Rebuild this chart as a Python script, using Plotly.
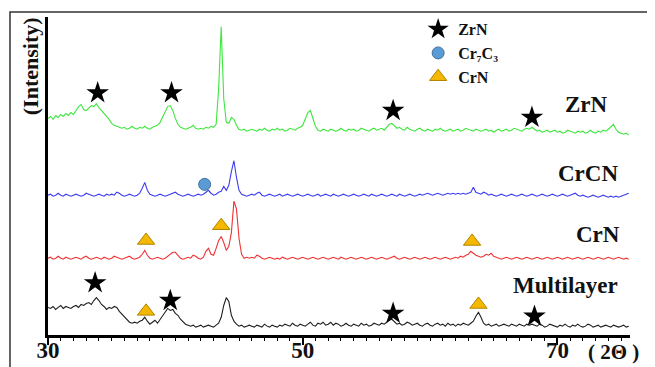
import plotly.graph_objects as go

# 2-theta sampling grid (degrees), 0.2 deg step from 30.0 to 75.6
two_theta = [round(30 + 0.2 * i, 1) for i in range(229)]

# Intensities (a.u., stacked as displayed)
zrn = [
    220, 222, 219, 223, 221, 224, 222, 225, 223, 226,
    224, 228, 232, 234, 229, 228, 231, 233, 232, 235,
    231, 228, 226, 222, 219, 215, 213, 212, 211, 210,
    211, 209, 210, 212, 210, 209, 211, 210, 212, 210,
    209, 211, 212, 213, 216, 221, 227, 232, 233, 228,
    220, 214, 211, 210, 209, 210, 211, 213, 210, 209,
    210, 209, 211, 210, 212, 211, 214, 250, 313, 240,
    216, 215, 221, 219, 213, 209, 208, 209, 207, 208,
    209, 208, 207, 209, 208, 210, 208, 207, 209, 208,
    210, 208, 209, 207, 208, 210, 209, 208, 210, 211,
    213, 219, 226, 228, 221, 212, 208, 207, 209, 208,
    207, 209, 208, 207, 208, 210, 208, 207, 209, 208,
    209, 207, 208, 210, 209, 208, 207, 209, 210, 208,
    209, 210, 208, 211, 214, 215, 212, 210, 211, 209,
    208, 211, 209, 208, 207, 209, 210, 208, 207, 209,
    208, 207, 209, 208, 210, 208, 207, 208, 209, 207,
    208, 209, 207, 208, 210, 209, 208, 207, 209, 208,
    207, 208, 209, 207, 208, 206, 208, 209, 207, 208,
    209, 207, 208, 210, 209, 208, 207, 209, 210, 209,
    211, 209, 207, 208, 206, 207, 208, 206, 207, 208,
    206, 207, 205, 206, 208, 207, 206, 205, 207, 206,
    207, 205, 206, 208, 206, 205, 207, 206, 208, 207,
    209, 212, 214, 209, 206, 205, 204, 205, 203,
]

crcn = [
    142, 143, 141, 142, 144, 142, 141, 143, 142, 141,
    142, 143, 142, 141, 142, 144, 143, 142, 141, 142,
    143, 142, 141, 143, 142, 143, 142, 145, 144, 142,
    141, 142, 143, 142, 141, 142, 144, 149, 155, 147,
    143, 142, 141, 142, 143, 142, 141, 142, 143, 144,
    145, 143, 142, 141, 142, 143, 142, 141, 142, 143,
    142, 143, 145, 147, 144, 142, 143, 145, 146, 151,
    147, 152, 166, 177, 160, 147, 143, 142, 141, 142,
    143, 142, 144, 145, 142, 141, 142, 143, 142, 141,
    142, 143, 141, 142, 143, 142, 141, 142, 143, 142,
    141, 142, 143, 142, 141, 142, 143, 141, 142, 143,
    142, 141, 143, 142, 141, 142, 143, 142, 141, 142,
    143, 142, 141, 142, 143, 142, 141, 143, 142, 141,
    142, 143, 142, 141, 142, 143, 142, 141, 143, 142,
    141, 142, 143, 142, 141, 142, 143, 142, 143, 144,
    143, 142, 143, 144, 143, 142, 143, 144, 143, 144,
    143, 144, 143, 144, 143, 144, 145, 150, 145, 144,
    143, 145, 144, 142, 143, 142, 141, 142, 143, 142,
    141, 142, 143, 142, 141, 142, 143, 142, 141, 142,
    143, 142, 141, 142, 143, 142, 141, 142, 143, 142,
    141, 142, 143, 142, 141, 142, 143, 144, 142, 141,
    142, 141, 140, 141, 142, 141, 140, 141, 142, 141,
    140, 141, 140, 141, 140, 141, 142, 143, 144,
]

crn = [
    78, 79, 77, 78, 80, 78, 77, 79, 78, 77,
    78, 79, 78, 77, 79, 80, 78, 77, 78, 79,
    78, 77, 79, 78, 77, 78, 80, 79, 78, 77,
    78, 79, 80, 78, 77, 78, 79, 82, 86, 81,
    78, 77, 78, 79, 78, 77, 78, 80, 82, 84,
    84, 81, 78, 77, 78, 79, 78, 81, 80, 78,
    77, 79, 85, 88, 82, 81, 88, 96, 100, 94,
    86, 90, 104, 136, 128, 98, 82, 78, 79, 78,
    79, 78, 81, 80, 78, 77, 78, 79, 78, 77,
    78, 77, 79, 78, 77, 78, 79, 78, 77, 78,
    79, 78, 77, 78, 79, 78, 77, 78, 79, 78,
    77, 78, 79, 78, 77, 79, 78, 77, 78, 79,
    78, 77, 78, 79, 78, 77, 78, 79, 78, 77,
    78, 79, 78, 77, 78, 79, 80, 78, 77, 78,
    79, 78, 77, 78, 79, 78, 77, 78, 79, 78,
    77, 78, 79, 78, 77, 78, 79, 78, 77, 78,
    79, 78, 80, 79, 81, 82, 85, 83, 81, 80,
    79, 80, 82, 81, 83, 80, 79, 78, 77, 78,
    79, 78, 77, 78, 79, 78, 77, 78, 79, 78,
    77, 78, 79, 78, 77, 78, 79, 78, 77, 78,
    79, 78, 77, 78, 79, 78, 77, 78, 79, 78,
    77, 78, 79, 78, 77, 78, 79, 78, 77, 78,
    79, 78, 77, 78, 79, 78, 77, 78, 77,
]

multilayer = [
    28, 27, 29, 26, 28, 30, 27, 29, 28, 27,
    29, 30, 28, 31, 30, 32, 33, 31, 35, 38,
    35, 31, 29, 26, 28, 27, 29, 28, 24, 21,
    18, 15, 13, 12, 13, 12, 14, 15, 18, 14,
    11, 13, 15, 12, 16, 20, 24, 27, 25, 26,
    22, 20, 16, 13, 11, 10, 9, 10, 8, 9,
    10, 8, 9, 10, 9, 8, 10, 12, 18, 30,
    38, 34, 20, 14, 11, 9, 10, 8, 9, 10,
    9, 8, 10, 9, 8, 11, 9, 8, 10, 9,
    8, 10, 9, 11, 10, 9, 12, 10, 9, 11,
    10, 9, 11, 13, 10, 9, 12, 11, 13, 10,
    11, 13, 10, 12, 11, 9, 10, 12, 10, 9,
    11, 10, 9, 12, 10, 11, 9, 10, 12, 11,
    10, 12, 11, 13, 15, 16, 13, 11, 12, 10,
    11, 13, 12, 10, 11, 12, 10, 9, 11, 12,
    10, 9, 11, 12, 10, 11, 9, 12, 10, 11,
    9, 11, 10, 12, 11, 10, 12, 14, 19, 23,
    18, 12, 10, 11, 9, 10, 11, 9, 10, 11,
    10, 9, 11, 10, 9, 11, 10, 9, 11, 10,
    11, 10, 9, 11, 10, 8, 9, 11, 10, 9,
    8, 10, 9, 11, 9, 8, 10, 9, 11, 9,
    8, 9, 11, 10, 8, 9, 10, 8, 9, 10,
    9, 8, 10, 9, 8, 9, 10, 8, 9,
]

series_names = ["ZrN", "CrCN", "CrN", "Multilayer"]
series_colors = ["#3ee63e", "#3c3cf0", "#f03232", "#1e1e1e"]

# Phase identification marks (2-theta, displayed height)
zrn_mark_x = [33.9, 39.7, 57.1, 68.0, 33.7, 39.6, 57.1, 68.2]
zrn_mark_y = [246, 246, 228, 221, 53, 35, 22, 19]
cr7c3_mark_x = [42.3]
cr7c3_mark_y = [153]
crn_mark_x = [37.7, 43.6, 63.3, 37.7, 63.8]
crn_mark_y = [96, 111, 95, 24, 31]

# Curve labels (2-theta, height)
label_x = [72.3, 72.4, 73.2, 70.6]
label_y = [234, 164, 102, 50]

x_label_ticks = [30, 50, 70]
x_unlabeled_ticks = [40, 60]

SERIF = "Times New Roman, Liberation Serif, serif"

fig = go.Figure()
for name, vals, col in zip(series_names, [zrn, crcn, crn, multilayer], series_colors):
    fig.add_trace(go.Scatter(x=two_theta, y=vals, mode="lines", name=name,
                             line=dict(color=col, width=1.1), showlegend=False,
                             hoverinfo="skip"))

fig.add_trace(go.Scatter(x=zrn_mark_x, y=zrn_mark_y, mode="markers", name="ZrN",
                         marker=dict(symbol="star", size=17, color="black",
                                     line=dict(width=0))))
fig.add_trace(go.Scatter(x=cr7c3_mark_x, y=cr7c3_mark_y, mode="markers",
                         name="Cr₇C₃",
                         marker=dict(symbol="circle", size=12, color="#5b9bd5",
                                     line=dict(color="#41719c", width=1))))
fig.add_trace(go.Scatter(x=crn_mark_x, y=crn_mark_y, mode="markers", name="CrN",
                         marker=dict(symbol="triangle-up", size=15, color="#f5b800",
                                     line=dict(color="#b08400", width=1))))

for name, lx, ly in zip(series_names, label_x, label_y):
    fig.add_annotation(x=lx, y=ly, text=name, showarrow=False,
                       xanchor="center", yanchor="middle",
                       font=dict(family=SERIF, size=23, color="#111", weight="bold"))

fig.add_annotation(xref="paper", yref="paper", x=0.926, y=-0.054, xanchor="left",
                   yanchor="middle", text="(\u00a02Θ\u00a0)", showarrow=False,
                   borderpad=0,
                   font=dict(family=SERIF, size=21, color="#111", weight="bold"))
fig.add_annotation(xref="paper", yref="paper", x=-0.031, y=0.845, textangle=-90,
                   xanchor="center", yanchor="middle",
                   text="(Intensity)", showarrow=False,
                   font=dict(family=SERIF, size=22, color="#111", weight="bold"))

# outer frame of the figure
fig.add_shape(type="rect", xref="paper", yref="paper", x0=-0.0653, y0=-0.2,
              x1=1.1, y1=1.0155, line=dict(color="#333", width=1.5), layer="below")

fig.update_layout(
    xaxis=dict(range=[30, 75.7], showgrid=False, zeroline=False, automargin=False,
               showline=True, linecolor="black", linewidth=2.5,
               tickmode="array", tickvals=x_label_ticks,
               ticks="outside", ticklen=7, tickwidth=1.5, tickcolor="black",
               ticklabelstandoff=-14,
               tickfont=dict(family=SERIF, size=23, color="#111", weight="bold"),
               minor=dict(dtick=1, tick0=30, ticks="outside", ticklen=3,
                          tickwidth=1, tickcolor="black")),
    xaxis2=dict(overlaying="x", matches="x", anchor="y", side="bottom",
                automargin=False,
                tickmode="array", tickvals=x_unlabeled_ticks, showticklabels=False,
                ticks="outside", ticklen=7, tickwidth=1.5, tickcolor="black",
                showgrid=False, zeroline=False, showline=False),
    yaxis=dict(range=[0, 323], showgrid=False, zeroline=False, automargin=False,
               showline=True, linecolor="black", linewidth=2.5,
               showticklabels=False, ticks=""),
    width=647, height=359,
    margin=dict(l=40, r=25, t=4, b=32),
    paper_bgcolor="white", plot_bgcolor="white",
    showlegend=True,
    legend=dict(x=0.636, y=1.015, xanchor="left", yanchor="top",
                bgcolor="rgba(0,0,0,0)", borderwidth=0,
                font=dict(family=SERIF, size=16, color="#111", weight="bold"),
                itemsizing="trace", tracegroupgap=0),
)

fig.write_html("out.html")
